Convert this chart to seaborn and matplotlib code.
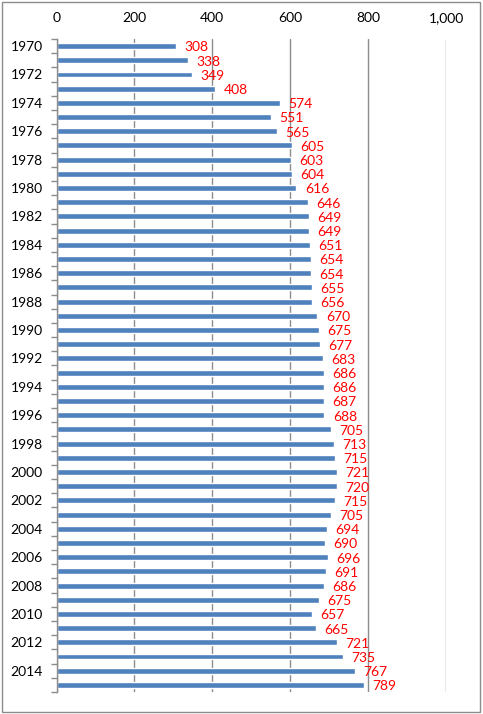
import matplotlib
matplotlib.use("Agg")
import matplotlib.pyplot as plt
import seaborn as sns
import pandas as pd
from matplotlib.ticker import FuncFormatter, FixedLocator
from matplotlib.patches import Rectangle

years = list(range(1970, 2016))
values = [308, 338, 349, 408, 574, 551, 565, 605, 603, 604, 616, 646, 649, 649,
          651, 654, 654, 655, 656, 670, 675, 677, 683, 686, 686, 687, 688, 705,
          713, 715, 721, 720, 715, 705, 694, 690, 696, 691, 686, 675, 657, 665,
          721, 735, 767, 789]
x_ticks = [0, 200, 400, 600, 800, 1000]

sns.set_theme(style="white")
plt.rcParams['font.family'] = ['Lato', 'DejaVu Sans']

df = pd.DataFrame({"year": [str(y) for y in years], "value": values})

fig = plt.figure(figsize=(4.83, 7.14), dpi=100)
ax = fig.add_axes([56.5/483, 1 - 692/714, (446-56.5)/483, (692-39)/714])

sns.barplot(data=df, x="value", y="year", orient="h", color="#4F81BD",
            saturation=1, width=0.42, ax=ax, order=df["year"])

ax.set_xlim(0, 1000)
ax.set_ylim(len(years) - 0.5, -0.5)
ax.xaxis.set_major_locator(FixedLocator(x_ticks))
ax.xaxis.set_major_formatter(FuncFormatter(lambda v, p: f"{v:,.0f}"))
ax.xaxis.tick_top()
ax.tick_params(axis="x", length=0, pad=11, labelsize=10, colors="black")
ax.grid(axis="x", color="#8C8C8C", linewidth=1)
ax.set_axisbelow(True)

ax.set_yticks(list(range(0, len(years), 2)))
ax.set_yticklabels([str(y) for y in years[::2]])
ax.set_yticks([i - 0.5 for i in range(len(years) + 1)], minor=True)
ax.tick_params(axis="y", which="major", length=0, pad=10, labelsize=10, colors="black")
ax.tick_params(axis="y", which="minor", length=4.5, width=1, color="#8C8C8C", left=True)

for s in ["top", "right", "bottom"]:
    ax.spines[s].set_visible(False)
ax.spines["left"].set_color("#8C8C8C")
ax.spines["left"].set_linewidth(1)

ax.set_xlabel("")
ax.set_ylabel("")

for i, v in enumerate(values):
    ax.annotate(str(v), xy=(v, i), xytext=(6, -1), textcoords="offset points",
                ha="left", va="center", color="#FF0000", fontsize=10)

fig.patches.append(Rectangle((2/483, 2/714), 478/483, 710/714, transform=fig.transFigure,
                             fill=False, edgecolor="#8C8C8C", linewidth=1))

fig.savefig("out.png", dpi=100)
